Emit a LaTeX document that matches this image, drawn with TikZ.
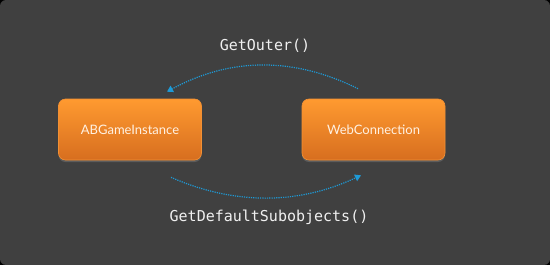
\documentclass[tikz,border=0pt]{standalone}
\usepackage{fontspec}
\setmainfont{Lato}
\newfontfamily\codefont{DejaVu Sans Mono}
\usetikzlibrary{arrows.meta,calc,shadows}
\definecolor{panel}{HTML}{404040}
\definecolor{boxtop}{HTML}{FF9A30}
\definecolor{boxbot}{HTML}{D76E1F}
\definecolor{boxline}{HTML}{F39033}
\definecolor{callblue}{HTML}{1E9AD6}
\definecolor{boxtext}{HTML}{FFF1E2}
\begin{document}
\begin{tikzpicture}[x=1pt, y=-1pt,
    classbox/.style={draw=boxline, line width=0.6pt, rounded corners=7pt,
      top color=boxtop, bottom color=boxbot, minimum width=143pt,
      minimum height=61pt, text=boxtext, font=\fontsize{13}{15}\selectfont,
      drop shadow={opacity=0.45, shadow xshift=0pt, shadow yshift=-2pt}},
    callarrow/.style={callblue, line width=1.2pt, dash pattern=on 1.2pt off 1.1pt,
      -{Triangle[length=6pt, width=7pt]}},
    calltext/.style={text=white!94!black, font=\codefont\fontsize{15}{17}\selectfont}]
  \useasboundingbox (0,0) rectangle (550,265);
  % bakgrunn
  \fill[black] (0,0) rectangle (550,265);
  \fill[panel, rounded corners=6pt] (0,0) rectangle (550,265);

  % klasser
  \node[classbox] (game) at (130,129.5) {ABGameInstance};
  \node[classbox] (web) at (373.5,129.5) {WebConnection};

  % endepunkter
  \coordinate (outS) at ($(web.north)+(-15.5,-10)$);
  \coordinate (outE) at ($(game.north)+(37,-7)$);
  \coordinate (subS) at ($(game.south)+(41,17)$);
  \coordinate (subE) at ($(web.south)+(-12.5,15)$);

  % kall
  \draw[callarrow] (outS) .. controls (294,57) and (231,57) .. (outE);
  \draw[callarrow] (subS) .. controls (234,205) and (298,205) .. (subE);
  \node[calltext] (outer) at (265,46) {GetOuter()};
  \node[calltext] (subobj) at (269,217) {GetDefaultSubobjects()};
\end{tikzpicture}
\end{document}
